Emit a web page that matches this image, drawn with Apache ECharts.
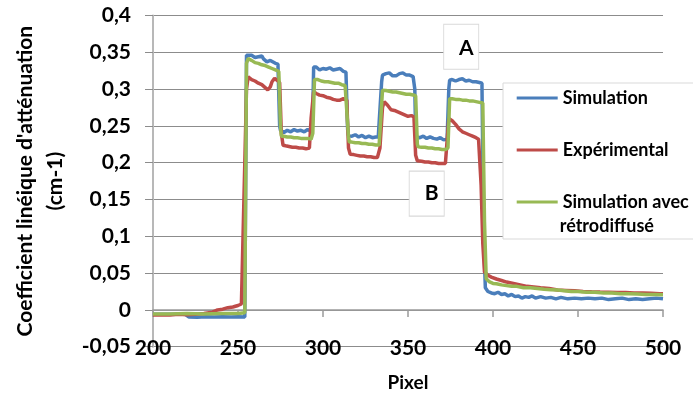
<!DOCTYPE html>
<html>
<head>
<meta charset="utf-8">
<script src="https://cdn.jsdelivr.net/npm/echarts@6/dist/echarts.min.js"></script>
<style>
html,body{margin:0;padding:0;background:#fff;}
#c{width:693px;height:400px;}
</style>
</head>
<body>
<div id="c"></div>
<script>
// ---- data ----
const seriesNames = ['Simulation', 'Expérimental', 'Simulation avec\nrétrodiffusé'];
const xTicks = [200, 250, 300, 350, 400, 450, 500];
const yTicks = [-0.05, 0, 0.05, 0.1, 0.15, 0.2, 0.25, 0.3, 0.35, 0.4];
const annotationLabels = ['A', 'B'];
const annotationCoords = [[381.3, 0.3575], [361, 0.158]];

const simulation = [
 [200,-0.006],[210,-0.006],[219,-0.006],[221,-0.0095],[226,-0.010],[231,-0.0092],[236,-0.0098],[241,-0.0093],[246,-0.0098],[250,-0.0094],[254,-0.0095],
 [255,0.346],[256,0.3486],[258,0.346],[260,0.343],[262,0.344],[264,0.345],[265,0.341],[267,0.337],[269,0.339],[270,0.340],[272,0.335],[273.5,0.334],
 [274.5,0.25],[275,0.244],[277,0.241],[279,0.244],[281,0.242],[283,0.245],[285,0.243],[287,0.244],[289,0.242],[291,0.245],[293,0.243],
 [294,0.27],[294.5,0.330],[296,0.330],[298,0.326],[300,0.328],[302,0.327],[304,0.329],[306,0.326],[308,0.327],[310,0.328],[312,0.324],[313.5,0.323],
 [314.5,0.245],[315,0.237],[317,0.236],[319,0.238],[321,0.235],[323,0.237],[325,0.234],[327,0.236],[329,0.234],[331,0.235],[332.5,0.235],
 [334.5,0.31],[335,0.319],[337,0.321],[339,0.322],[341,0.318],[343,0.318],[345,0.321],[347,0.322],[349,0.319],[351,0.319],[353,0.317],
 [354,0.30],[354.5,0.24],[355,0.235],[357,0.234],[359,0.236],[361,0.233],[363,0.235],[365,0.233],[367,0.232],[369,0.234],[371,0.231],[373,0.232],
 [374,0.30],[374.5,0.312],[376,0.313],[378,0.311],[380,0.313],[382,0.314],[384,0.311],[386,0.312],[388,0.310],[390,0.310],[392,0.309],[393.5,0.308],
 [394.5,0.10],[395.5,0.03],[397,0.025],[399,0.023],[401,0.022],[403,0.024],[405,0.021],[407,0.022],[409,0.019],[411,0.021],[413,0.018],[415,0.019],
 [417,0.016],[419,0.018],[421,0.017],[423,0.019],[425,0.016],[428,0.018],[431,0.016],[434,0.017],[437,0.015],[440,0.017],[444,0.015],[448,0.016],
 [452,0.015],[456,0.016],[460,0.015],[464,0.016],[468,0.014],[472,0.015],[476,0.016],[480,0.014],[484,0.015],[488,0.014],[492,0.015],[496,0.016],[500,0.015]
];

const experimental = [
 [200,-0.007],[205,-0.0065],[210,-0.007],[215,-0.006],[220,-0.0065],[225,-0.006],[230,-0.005],[235,-0.003],[238,0.000],[241,0.001],[244,0.003],[247,0.004],[250,0.006],[252,0.008],[253,0.010],
 [254,0.20],[255,0.300],[256,0.3167],[258,0.313],[260,0.311],[262,0.308],[264,0.306],[266,0.302],[267.5,0.299],[269,0.303],[270,0.310],[271.5,0.3146],[273,0.312],[274.5,0.309],
 [275.5,0.24],[276.5,0.2238],[278,0.223],[280,0.222],[282,0.221],[284,0.221],[286,0.220],[288,0.220],[290,0.219],[292,0.220],
 [293,0.26],[294.5,0.2963],[296,0.294],[298,0.2918],[300,0.291],[302,0.289],[304,0.288],[306,0.286],[308,0.285],[310,0.285],[312,0.287],[314,0.285],
 [315,0.22],[316,0.2116],[318,0.211],[320,0.210],[322,0.209],[324,0.209],[326,0.208],[328,0.208],[330,0.207],[332,0.207],
 [333.5,0.22],[335,0.275],[336,0.283],[338,0.278],[340,0.272],[342,0.271],[344,0.269],[346,0.267],[348,0.265],[350,0.263],[352,0.264],[353.5,0.262],
 [354.5,0.21],[355.5,0.2025],[358,0.202],[360,0.201],[362,0.201],[364,0.200],[366,0.200],[368,0.199],[370,0.199],[372,0.199],
 [373,0.23],[374,0.26],[376,0.257],[378,0.252],[380,0.246],[382,0.242],[384,0.240],[386,0.238],[388,0.236],[390,0.234],[391.5,0.232],
 [393,0.17],[394,0.09],[395,0.0514],[397,0.047],[399,0.0446],[402,0.042],[405,0.040],[408,0.0378],[412,0.036],[416,0.034],[420,0.032],[424,0.031],
 [428,0.030],[433,0.029],[438,0.027],[443,0.0265],[448,0.026],[453,0.025],[458,0.0245],[463,0.0242],[468,0.024],[473,0.0238],[478,0.0235],[483,0.023],
 [488,0.023],[493,0.0225],[498,0.022],[500,0.022]
];

const simulationRetro = [
 [200,-0.0055],[210,-0.0055],[220,-0.005],[230,-0.0055],[240,-0.005],[250,-0.005],[254,-0.004],
 [255,0.335],[256,0.3417],[258,0.339],[260,0.336],[262,0.335],[264,0.333],[266,0.332],[268,0.330],[270,0.328],[272,0.326],[274,0.324],
 [275,0.25],[275.5,0.236],[277,0.236],[279,0.235],[281,0.235],[283,0.234],[285,0.234],[287,0.233],[289,0.233],[291,0.233],[293,0.232],
 [294,0.24],[295,0.313],[297,0.313],[299,0.311],[301,0.310],[303,0.310],[305,0.309],[307,0.308],[309,0.308],[311,0.306],[313,0.305],[314,0.304],
 [315,0.235],[315.5,0.228],[317,0.228],[319,0.227],[321,0.227],[323,0.226],[325,0.226],[327,0.225],[329,0.225],[331,0.224],[333,0.224],
 [334,0.26],[335,0.2986],[337,0.298],[339,0.297],[341,0.296],[343,0.296],[345,0.295],[347,0.294],[349,0.293],[351,0.293],[353,0.292],[354.5,0.291],
 [355.5,0.225],[356,0.2215],[358,0.221],[360,0.221],[362,0.220],[364,0.220],[366,0.219],[368,0.219],[370,0.218],[372,0.218],[373.5,0.22],
 [374.5,0.287],[376,0.287],[378,0.286],[380,0.286],[382,0.285],[384,0.285],[386,0.284],[388,0.284],[390,0.283],[392,0.282],[394,0.281],
 [395,0.12],[396,0.0424],[398,0.038],[400,0.036],[402,0.0356],[405,0.034],[408,0.033],[411,0.032],[414,0.032],[418,0.030],[422,0.030],[426,0.029],
 [430,0.028],[434,0.0275],[438,0.027],[442,0.026],[446,0.025],[450,0.025],[455,0.024],[460,0.024],[465,0.023],[470,0.023],[475,0.022],[480,0.022],
 [485,0.0215],[490,0.021],[495,0.021],[500,0.0205]
];

const colors = ['#4A7EBB', '#BE4B48', '#98B954'];

// ---- chart ----
const FONT = 'Lato';
const chart = echarts.init(document.getElementById('c'), null, {renderer: 'canvas'});
const fmtNum = v => String(+(+v).toFixed(2)).replace('.', ',');

const annotations = annotationLabels.map((t, i) => ({
  coord: annotationCoords[i],
  symbol: 'rect',
  symbolSize: [35, 45],
  itemStyle: {color: '#ffffff', borderColor: '#d9d9d9', borderWidth: 1},
  label: {show: true, formatter: t, color: '#000', fontFamily: FONT, fontSize: 21, fontWeight: 'bold',
          offset: i === 0 ? [5, 1] : [5, 0]}
}));

// legend shows the first line of each name; continuation lines are added below
const legendLines = seriesNames.map(n => n.split('\n'));
const LEGEND_LEFT = 503, LEGEND_TOP = 83, ICON_LEFT = 516.7, ICON_W = 41, TEXT_GAP = 2, ITEM_GAP = 30;
const legendTextStyle = {fontFamily: FONT, fontSize: 18, fontWeight: 'bold', color: '#000', lineHeight: 22};

const option = {
  animation: false,
  backgroundColor: '#ffffff',
  textStyle: {fontFamily: FONT},
  grid: {left: 153, right: 30, top: 15.5, bottom: 53.3, containLabel: false},
  legend: {
    orient: 'vertical',
    left: LEGEND_LEFT, top: LEGEND_TOP,
    padding: [4, 40, 26, ICON_LEFT - LEGEND_LEFT],
    itemWidth: ICON_W, itemHeight: 3, itemTextGap: TEXT_GAP, itemGap: ITEM_GAP,
    icon: 'rect', selectedMode: false,
    backgroundColor: '#ffffff',
    borderColor: '#d9d9d9', borderWidth: 1,
    textStyle: legendTextStyle,
    formatter: name => name.split('\n')[0],
    data: seriesNames.map(n => ({name: n}))
  },
  graphic: [{
    type: 'text', z: 100,
    left: ICON_LEFT + ICON_W + TEXT_GAP, top: 215,
    style: {text: legendLines[2].slice(1).join('\n'), fill: '#000',
            font: 'bold 18px ' + FONT, lineHeight: 22}
  }],
  xAxis: [
    {
      type: 'value', min: xTicks[0], max: xTicks[xTicks.length - 1], interval: 50,
      position: 'bottom',
      axisLine: {show: false, onZero: false},
      axisTick: {show: false},
      splitLine: {show: false},
      axisLabel: {fontFamily: FONT, fontSize: 21, fontWeight: 'bold', color: '#000', margin: 2, verticalAlign: 'middle'},
      name: 'Pixel', nameLocation: 'middle', nameGap: 36,
      nameTextStyle: {fontFamily: FONT, fontSize: 19, fontWeight: 'bold', color: '#000', verticalAlign: 'middle'}
    },
    {
      type: 'value', min: xTicks[0], max: xTicks[xTicks.length - 1], interval: 50,
      position: 'top',
      axisLine: {show: true, onZero: true, lineStyle: {color: '#9a9a9a', width: 1.5}},
      axisTick: {show: true, inside: true, length: 7, lineStyle: {color: '#9a9a9a', width: 1.5}},
      axisLabel: {show: false},
      splitLine: {show: false}
    }
  ],
  yAxis: {
    type: 'value', min: yTicks[0], max: yTicks[yTicks.length - 1], interval: 0.05,
    axisLine: {show: true, lineStyle: {color: '#b8b8b8', width: 2}},
    axisTick: {show: true, length: 8, lineStyle: {color: '#8c8c8c'}},
    splitLine: {show: true, lineStyle: {color: '#8c8c8c', width: 1}},
    axisLabel: {fontFamily: FONT, fontSize: 21, fontWeight: 'bold', color: '#000', margin: 22,
                formatter: fmtNum, padding: [4, 0, 0, 0]},
    name: "Coefficient linéique d'atténuation\n(cm-1)",
    nameLocation: 'middle', nameRotate: 90, nameGap: 112.7,
    nameTextStyle: {fontFamily: FONT, fontSize: 21, fontWeight: 'bold', color: '#000', lineHeight: 30, verticalAlign: 'middle'}
  },
  series: [
    {name: seriesNames[0], type: 'line', data: simulation, showSymbol: false, xAxisIndex: 0,
     lineStyle: {width: 3.5, color: colors[0]}, itemStyle: {color: colors[0]}},
    {name: seriesNames[1], type: 'line', data: experimental, showSymbol: false, xAxisIndex: 0,
     lineStyle: {width: 3.5, color: colors[1]}, itemStyle: {color: colors[1]}},
    {name: seriesNames[2], type: 'line', data: simulationRetro, showSymbol: false, xAxisIndex: 0,
     lineStyle: {width: 3.5, color: colors[2]}, itemStyle: {color: colors[2]},
     markPoint: {silent: true, data: annotations}}
  ]
};
chart.setOption(option);
</script>
</body>
</html>
